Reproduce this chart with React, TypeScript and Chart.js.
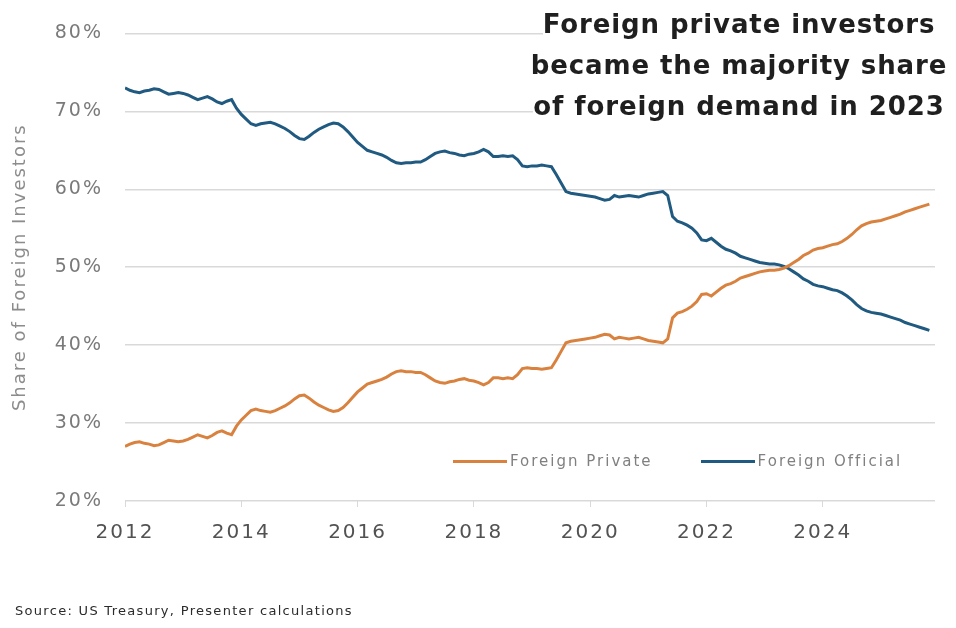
import { useEffect, useRef } from 'react';
import { Chart, registerables } from 'chart.js';

Chart.register(...registerables);

// monthly data, Jan 2012 onward
const startYear = 2012;
const yearTicks = [2012, 2014, 2016, 2018, 2020, 2022, 2024];
const seriesNames = ['Foreign Private', 'Foreign Official'];
const seriesColors = ['#D9823F', '#205A80'];

const privateShare = [
  27.0, 27.3, 27.5, 27.6, 27.4, 27.3, 27.1, 27.2, 27.5, 27.8, 27.7, 27.6,
  27.7, 27.9, 28.2, 28.5, 28.3, 28.1, 28.4, 28.8, 29.0, 28.7, 28.5, 29.6,
  30.4, 31.0, 31.6, 31.8, 31.6, 31.5, 31.4, 31.6, 31.9, 32.2, 32.6, 33.1,
  33.5, 33.6, 33.2, 32.7, 32.3, 32.0, 31.7, 31.5, 31.6, 32.0, 32.6, 33.3,
  34.0, 34.5, 35.0, 35.2, 35.4, 35.6, 35.9, 36.3, 36.6, 36.7, 36.6, 36.6,
  36.5, 36.5, 36.2, 35.8, 35.4, 35.2, 35.1, 35.3, 35.4, 35.6, 35.7, 35.5,
  35.4, 35.2, 34.9, 35.2, 35.8, 35.8, 35.7, 35.8, 35.7, 36.2, 37.0, 37.1,
  37.0, 37.0, 36.9, 37.0, 37.1, 38.1, 39.2, 40.3, 40.5, 40.6, 40.7, 40.8,
  40.9, 41.0, 41.2, 41.4, 41.3, 40.8, 41.0, 40.9, 40.8, 40.9, 41.0, 40.8,
  40.6, 40.5, 40.4, 40.3, 40.8, 43.5, 44.1, 44.3, 44.6, 45.0, 45.6, 46.5,
  46.6, 46.3, 46.8, 47.3, 47.7, 47.9, 48.2, 48.6, 48.8, 49.0, 49.2, 49.4,
  49.5, 49.6, 49.6, 49.7, 49.9, 50.2, 50.6, 51.0, 51.5, 51.8, 52.2, 52.4,
  52.5, 52.7, 52.9, 53.0, 53.3, 53.7, 54.2, 54.8, 55.3, 55.6, 55.8, 55.9,
  56.0, 56.2, 56.4, 56.6, 56.8, 57.1, 57.3, 57.5, 57.7, 57.9, 58.1,
];

const officialShare = [
  73.0, 72.7, 72.5, 72.4, 72.6, 72.7, 72.9, 72.8, 72.5, 72.2, 72.3, 72.4,
  72.3, 72.1, 71.8, 71.5, 71.7, 71.9, 71.6, 71.2, 71.0, 71.3, 71.5, 70.4,
  69.6, 69.0, 68.4, 68.2, 68.4, 68.5, 68.6, 68.4, 68.1, 67.8, 67.4, 66.9,
  66.5, 66.4, 66.8, 67.3, 67.7, 68.0, 68.3, 68.5, 68.4, 68.0, 67.4, 66.7,
  66.0, 65.5, 65.0, 64.8, 64.6, 64.4, 64.1, 63.7, 63.4, 63.3, 63.4, 63.4,
  63.5, 63.5, 63.8, 64.2, 64.6, 64.8, 64.9, 64.7, 64.6, 64.4, 64.3, 64.5,
  64.6, 64.8, 65.1, 64.8, 64.2, 64.2, 64.3, 64.2, 64.3, 63.8, 63.0, 62.9,
  63.0, 63.0, 63.1, 63.0, 62.9, 61.9, 60.8, 59.7, 59.5, 59.4, 59.3, 59.2,
  59.1, 59.0, 58.8, 58.6, 58.7, 59.2, 59.0, 59.1, 59.2, 59.1, 59.0, 59.2,
  59.4, 59.5, 59.6, 59.7, 59.2, 56.5, 55.9, 55.7, 55.4, 55.0, 54.4, 53.5,
  53.4, 53.7, 53.2, 52.7, 52.3, 52.1, 51.8, 51.4, 51.2, 51.0, 50.8, 50.6,
  50.5, 50.4, 50.4, 50.3, 50.1, 49.8, 49.4, 49.0, 48.5, 48.2, 47.8, 47.6,
  47.5, 47.3, 47.1, 47.0, 46.7, 46.3, 45.8, 45.2, 44.7, 44.4, 44.2, 44.1,
  44.0, 43.8, 43.6, 43.4, 43.2, 42.9, 42.7, 42.5, 42.3, 42.1, 41.9,
];

const toPoints = (values: number[]) =>
  values.map((v, i) => ({ x: startYear + i / 12, y: v }));

// the source font is wide; canvas letter spacing gets closer
const spacingPlugin = {
  id: 'spacing',
  beforeDraw(chart: Chart) {
    (chart.ctx as any).letterSpacing = '2px';
  },
  afterDraw(chart: Chart) {
    (chart.ctx as any).letterSpacing = '0px';
  },
};

const FONT = "'DejaVu Sans', sans-serif";

function LegendItem({ label, color }: { label: string; color: string }) {
  return (
    <div style={{ display: 'flex', alignItems: 'center' }}>
      <span style={{ width: 54, height: 3, background: color, marginRight: 3 }} />
      <span style={{ color: '#808080', fontSize: 15, letterSpacing: 2 }}>{label}</span>
    </div>
  );
}

export default function App() {
  const canvasRef = useRef<HTMLCanvasElement>(null);
  const chartRef = useRef<Chart | null>(null);

  useEffect(() => {
    document.body.style.margin = '0';
    if (!canvasRef.current) return;
    if (chartRef.current) chartRef.current.destroy();

    chartRef.current = new Chart(canvasRef.current, {
      type: 'line',
      data: {
        datasets: [
          {
            label: seriesNames[0],
            data: toPoints(privateShare),
            borderColor: seriesColors[0],
            borderWidth: 3,
            pointRadius: 0,
            tension: 0,
          },
          {
            label: seriesNames[1],
            data: toPoints(officialShare),
            borderColor: seriesColors[1],
            borderWidth: 3,
            pointRadius: 0,
            tension: 0,
          },
        ],
      },
      options: {
        responsive: false,
        animation: false,
        layout: { padding: { top: 27, right: 21, left: 0, bottom: 0 } },
        plugins: {
          legend: { display: false },
          tooltip: { enabled: false },
        },
        scales: {
          x: {
            type: 'linear',
            min: 2012,
            max: 2025.93,
            afterBuildTicks: (scale: any) => {
              scale.ticks = yearTicks.map((v) => ({ value: v }));
            },
            afterFit: (scale: any) => {
              scale.height = 127;
            },
            grid: {
              drawOnChartArea: false,
              drawTicks: true,
              tickLength: 6,
              color: '#d9d9d9',
            },
            border: { display: false },
            ticks: {
              padding: 14,
              color: '#525252',
              font: { family: FONT, size: 20 },
              maxRotation: 0,
              callback: (v: any) => String(v),
            },
          },
          y: {
            min: 20,
            max: 80,
            afterFit: (scale: any) => {
              scale.width = 125;
            },
            grid: { color: '#d9d9d9', lineWidth: 1.5, drawTicks: false },
            border: { display: false },
            ticks: {
              stepSize: 10,
              padding: 22,
              color: '#7a7a7a',
              font: { family: FONT, size: 19 },
              callback: (v: any) => v + '%',
            },
            title: {
              display: true,
              text: 'Share of Foreign Investors',
              color: '#8c8c8c',
              font: { family: FONT, size: 18 },
              padding: { top: 10, bottom: 0 },
            },
          },
        },
      },
      plugins: [spacingPlugin],
    });

    return () => {
      if (chartRef.current) {
        chartRef.current.destroy();
        chartRef.current = null;
      }
    };
  }, []);

  return (
    <div style={{ position: 'relative', width: 956, height: 628, background: '#fff', fontFamily: FONT }}>
      <canvas ref={canvasRef} width={956} height={628} />
      <div
        style={{
          position: 'absolute',
          left: 500,
          width: 478,
          top: 4,
          textAlign: 'center',
          fontSize: 26,
          fontWeight: 700,
          lineHeight: '41px',
          letterSpacing: 0.9,
          color: '#1f1f1f',
        }}
      >
        <span style={{ background: '#fff' }}>Foreign private investors</span>
        <br />
        <span style={{ background: '#fff' }}>became the majority share</span>
        <br />
        <span style={{ background: '#fff' }}>of foreign demand in 2023</span>
      </div>
      <div style={{ position: 'absolute', left: 453, top: 452, display: 'flex', gap: 48 }}>
        <LegendItem label={seriesNames[0]} color={seriesColors[0]} />
        <LegendItem label={seriesNames[1]} color={seriesColors[1]} />
      </div>
      <div
        style={{
          position: 'absolute',
          left: 15,
          top: 603,
          fontSize: 13,
          letterSpacing: 1.3,
          color: '#2b2b2b',
        }}
      >
        Source: US Treasury, Presenter calculations
      </div>
    </div>
  );
}
